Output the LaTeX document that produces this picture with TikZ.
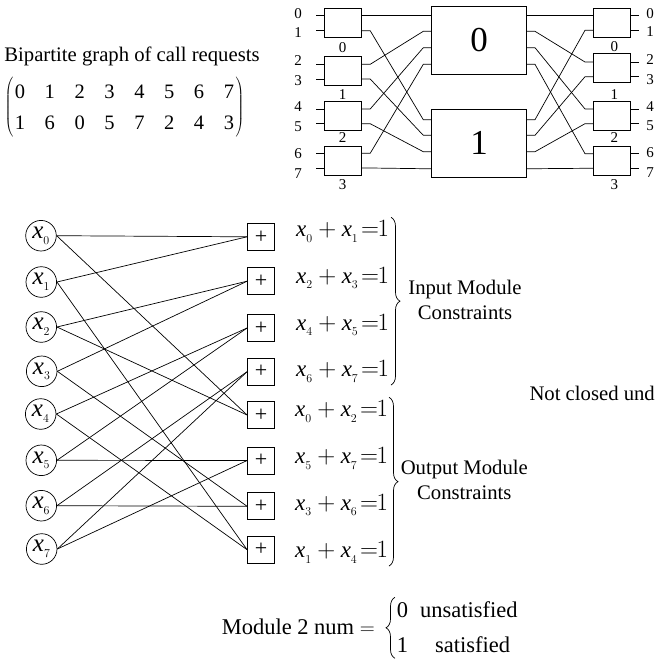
\documentclass[tikz,border=0pt]{standalone}
\usepackage{amsmath}
\usepackage{fontspec}
\setmainfont{Liberation Serif}
\usetikzlibrary{matrix,decorations.pathreplacing}
\tikzset{
  swbox/.style={draw,line width=0.8pt,minimum width=37pt,minimum height=28.6pt,inner sep=0pt},
  midbox/.style={draw,line width=0.8pt,minimum width=94.6pt,minimum height=68pt,inner sep=0pt,font=\fontsize{35}{38}\selectfont},
  small/.style={inner sep=0pt,font=\fontsize{15}{17}\selectfont},
  txt/.style={inner sep=0pt,font=\fontsize{20.7}{24}\selectfont},
  big/.style={inner sep=0pt,font=\fontsize{22.5}{26}\selectfont},
  var/.style={circle,draw,line width=0.7pt,minimum size=30.6pt,inner sep=0pt,font=\fontsize{25}{28}\selectfont},
  plus/.style={draw,line width=0.8pt,minimum size=27pt,inner sep=0pt,font=\fontsize{22}{24}\selectfont},
  eqn/.style={anchor=west,inner sep=0pt,font=\fontsize{23}{26}\selectfont},
  wire/.style={line width=0.7pt},
  brc/.style={line width=0.7pt,decorate,decoration={brace,amplitude=9pt,aspect=0.5}}
}
\newcommand{\xv}[1]{\mathit{x}_{\lower2pt\hbox{$\scriptscriptstyle #1$}}}
\newcommand{\eqline}[2]{$\xv{#1}+\xv{#2}\!=\!\!1$}
\begin{document}
\begin{tikzpicture}[x=1pt,y=-1pt]
\useasboundingbox (0,0) rectangle (655,665);
% title and request matrix
\node[txt] (title) at (132,56.5) {Bipartite graph of call requests};
\matrix (req) [matrix of nodes,left delimiter=(,right delimiter=),column sep=19.6pt,inner sep=0pt,
  nodes={inner sep=0pt,minimum height=31.3pt,minimum width=10pt,font=\fontsize{20.5}{24}\selectfont}] at (124.5,107.5) {
  0 & 1 & 2 & 3 & 4 & 5 & 6 & 7 \\
  1 & 6 & 0 & 5 & 7 & 2 & 4 & 3 \\
};
% switch network
\node[swbox] (lsw0) at (343,23) {};
\node[swbox] (lsw1) at (343,70.8) {};
\node[swbox] (lsw2) at (343,115.7) {};
\node[swbox] (lsw3) at (343,160.7) {};
\node[midbox] (mid0) at (479,40) {0};
\node[midbox] (mid1) at (479,143.2) {1};
\node[swbox] (rsw0) at (611.8,23) {};
\node[swbox] (rsw1) at (611.8,68) {};
\node[swbox] (rsw2) at (611.8,115.7) {};
\node[swbox] (rsw3) at (611.8,160.7) {};
\node[small] (lnum0) at (298,13.7) {0};
\node[small] (lnum1) at (298,33) {1};
\node[small] (lnum2) at (298,61) {2};
\node[small] (lnum3) at (298,81) {3};
\node[small] (lnum4) at (298,106.7) {4};
\node[small] (lnum5) at (298,127) {5};
\node[small] (lnum6) at (298,154) {6};
\node[small] (lnum7) at (298,174) {7};
\node[small] (rnum0) at (650,13.3) {0};
\node[small] (rnum1) at (650,32) {1};
\node[small] (rnum2) at (650,60) {2};
\node[small] (rnum3) at (650,80) {3};
\node[small] (rnum4) at (650,107) {4};
\node[small] (rnum5) at (650,126) {5};
\node[small] (rnum6) at (650,153) {6};
\node[small] (rnum7) at (650,173) {7};
\node[small] (ltag0) at (342.7,47.7) {0};
\node[small] (ltag1) at (342.7,95) {1};
\node[small] (ltag2) at (342.7,137.7) {2};
\node[small] (ltag3) at (342.7,185) {3};
\node[small] (rtag0) at (614.3,46.7) {0};
\node[small] (rtag1) at (614.3,94.3) {1};
\node[small] (rtag2) at (614.3,137.7) {2};
\node[small] (rtag3) at (614.3,185) {3};
\coordinate (li0) at (316,15.7);
\coordinate (li1) at (316,30.7);
\coordinate (li2) at (316,64.3);
\coordinate (li3) at (316,79);
\coordinate (li4) at (316,109);
\coordinate (li5) at (316,123.7);
\coordinate (li6) at (316,153.3);
\coordinate (li7) at (316,168);
\coordinate (mi0) at (423.3,15.7);
\coordinate (mi1) at (423.3,31.3);
\coordinate (mi2) at (423.3,47.7);
\coordinate (mi3) at (423.3,64.3);
\coordinate (mi4) at (423.3,119.7);
\coordinate (mi5) at (423.3,135.3);
\coordinate (mi6) at (423.3,151.7);
\coordinate (mi7) at (423.3,168.7);
\coordinate (mo0) at (535,15.7);
\coordinate (mo1) at (535,31.3);
\coordinate (mo2) at (535,47.7);
\coordinate (mo3) at (535,64.3);
\coordinate (mo4) at (535,119.7);
\coordinate (mo5) at (535,135.3);
\coordinate (mo6) at (535,151.7);
\coordinate (mo7) at (535,168.7);
\coordinate (ri0) at (585,15.7);
\coordinate (ri1) at (585,30.3);
\coordinate (ri2) at (585,62);
\coordinate (ri3) at (585,76.7);
\coordinate (ri4) at (585,109);
\coordinate (ri5) at (585,123.7);
\coordinate (ri6) at (585,153.7);
\coordinate (ri7) at (585,168.3);
\draw[wire] (li0) -- (li0 -| lsw0.west);
\draw[wire] (li1) -- (li1 -| lsw0.west);
\draw[wire] (li2) -- (li2 -| lsw1.west);
\draw[wire] (li3) -- (li3 -| lsw1.west);
\draw[wire] (li4) -- (li4 -| lsw2.west);
\draw[wire] (li5) -- (li5 -| lsw2.west);
\draw[wire] (li6) -- (li6 -| lsw3.west);
\draw[wire] (li7) -- (li7 -| lsw3.west);
\draw[wire] (lsw0.east |- li0) -- (mi0) -- (mi0 -| mid0.west);
\draw[wire] (lsw0.east |- li1) -- ++(8.3,0) -- (mi4) -- (mi4 -| mid1.west);
\draw[wire] (lsw1.east |- li2) -- ++(8.3,0) -- (mi1) -- (mi1 -| mid0.west);
\draw[wire] (lsw1.east |- li3) -- ++(8.3,0) -- (mi5) -- (mi5 -| mid1.west);
\draw[wire] (lsw2.east |- li4) -- ++(8.3,0) -- (mi2) -- (mi2 -| mid0.west);
\draw[wire] (lsw2.east |- li5) -- ++(8.3,0) -- (mi6) -- (mi6 -| mid1.west);
\draw[wire] (lsw3.east |- li6) -- ++(8.3,0) -- (mi3) -- (mi3 -| mid0.west);
\draw[wire] (lsw3.east |- li7) -- ++(8.3,0) -- (mi7) -- (mi7 -| mid1.west);
\draw[wire] (mid0.east |- mo0) -- (mo0) -- (ri0) -- (ri0 -| rsw0.west);
\draw[wire] (mid0.east |- mo1) -- (mo1) -- (ri2) -- (ri2 -| rsw1.west);
\draw[wire] (mid0.east |- mo2) -- (mo2) -- (ri4) -- (ri4 -| rsw2.west);
\draw[wire] (mid0.east |- mo3) -- (mo3) -- (ri6) -- (ri6 -| rsw3.west);
\draw[wire] (mid1.east |- mo4) -- (mo4) -- (ri1) -- (ri1 -| rsw0.west);
\draw[wire] (mid1.east |- mo5) -- (mo5) -- (ri3) -- (ri3 -| rsw1.west);
\draw[wire] (mid1.east |- mo6) -- (mo6) -- (ri5) -- (ri5 -| rsw2.west);
\draw[wire] (mid1.east |- mo7) -- (mo7) -- (ri7) -- (ri7 -| rsw3.west);
\draw[wire] (rsw0.east |- ri0) -- ++(8.7,0);
\draw[wire] (rsw0.east |- ri1) -- ++(8.7,0);
\draw[wire] (rsw1.east |- ri2) -- ++(8.7,0);
\draw[wire] (rsw1.east |- ri3) -- ++(8.7,0);
\draw[wire] (rsw2.east |- ri4) -- ++(8.7,0);
\draw[wire] (rsw2.east |- ri5) -- ++(8.7,0);
\draw[wire] (rsw3.east |- ri6) -- ++(8.7,0);
\draw[wire] (rsw3.east |- ri7) -- ++(8.7,0);
% variables and parity checks
\node[var] (x0) at (41,235.7) {$\xv{0}$};
\node[var] (x1) at (41.3,282) {$\xv{1}$};
\node[var] (x2) at (41.3,327) {$\xv{2}$};
\node[var] (x3) at (41.7,371.3) {$\xv{3}$};
\node[var] (x4) at (40.7,414) {$\xv{4}$};
\node[var] (x5) at (41.3,460.3) {$\xv{5}$};
\node[var] (x6) at (41.3,505.7) {$\xv{6}$};
\node[var] (x7) at (41.7,549) {$\xv{7}$};
\node[plus] (c0) at (261,236.8) {+};
\node[plus] (c1) at (261,281.2) {+};
\node[plus] (c2) at (261,328) {+};
\node[plus] (c3) at (261,371.7) {+};
\node[plus] (c4) at (261,415) {+};
\node[plus] (c5) at (261,460.5) {+};
\node[plus] (c6) at (261,506.3) {+};
\node[plus] (c7) at (261,549.7) {+};
\draw[wire] (x0.east) -- (c0.west);
\draw[wire] (x1.east) -- (c0.west);
\draw[wire] (x2.east) -- (c1.west);
\draw[wire] (x3.east) -- (c1.west);
\draw[wire] (x4.east) -- (c2.west);
\draw[wire] (x5.east) -- (c2.west);
\draw[wire] (x6.east) -- (c3.west);
\draw[wire] (x7.east) -- (c3.west);
\draw[wire] (x0.east) -- (c4.west);
\draw[wire] (x2.east) -- (c4.west);
\draw[wire] (x5.east) -- (c5.west);
\draw[wire] (x7.east) -- (c5.west);
\draw[wire] (x3.east) -- (c6.west);
\draw[wire] (x6.east) -- (c6.west);
\draw[wire] (x1.east) -- (c7.west);
\draw[wire] (x4.east) -- (c7.west);
% constraints
\node[eqn] (eq0) at (296,231.7) {\eqline{0}{1}};
\node[eqn] (eq1) at (296,278) {\eqline{2}{3}};
\node[eqn] (eq2) at (296,325) {\eqline{4}{5}};
\node[eqn] (eq3) at (296,371.7) {\eqline{6}{7}};
\node[eqn] (eq4) at (295,411.7) {\eqline{0}{2}};
\node[eqn] (eq5) at (295,458.3) {\eqline{5}{7}};
\node[eqn] (eq6) at (295,505) {\eqline{3}{6}};
\node[eqn] (eq7) at (295,552.3) {\eqline{1}{4}};
\coordinate (ibt) at (391,217.3);
\coordinate (ibb) at (391,385);
\coordinate (obt) at (389,397.3);
\coordinate (obb) at (389,566);
\coordinate (mbt) at (395,597.3);
\coordinate (mbb) at (395,658.3);
\draw[brc] (ibt) -- (ibb);
\draw[brc] (obt) -- (obb);
\draw[brc] (mbb) -- (mbt);
\node[txt] (inlab) at (465,289.3) {Input Module};
\node[txt] (incon) at (465,312.7) {Constraints};
\node[txt] (outlab) at (464.3,469.3) {Output Module};
\node[txt] (outcon) at (464.3,492.3) {Constraints};
\node[txt,anchor=west] (cut) at (529.3,393) {Not closed und};
\node[big,anchor=east] (modnum) at (375,626.7) {Module 2 num $=$};
\node[big,anchor=west] (val0) at (396.7,610) {0};
\node[big,anchor=west] (val1) at (396.7,645) {1};
\node[big,anchor=west] (unsat) at (420,610) {unsatisfied};
\node[big,anchor=west] (sat) at (435,645) {satisfied};
\end{tikzpicture}
\end{document}
